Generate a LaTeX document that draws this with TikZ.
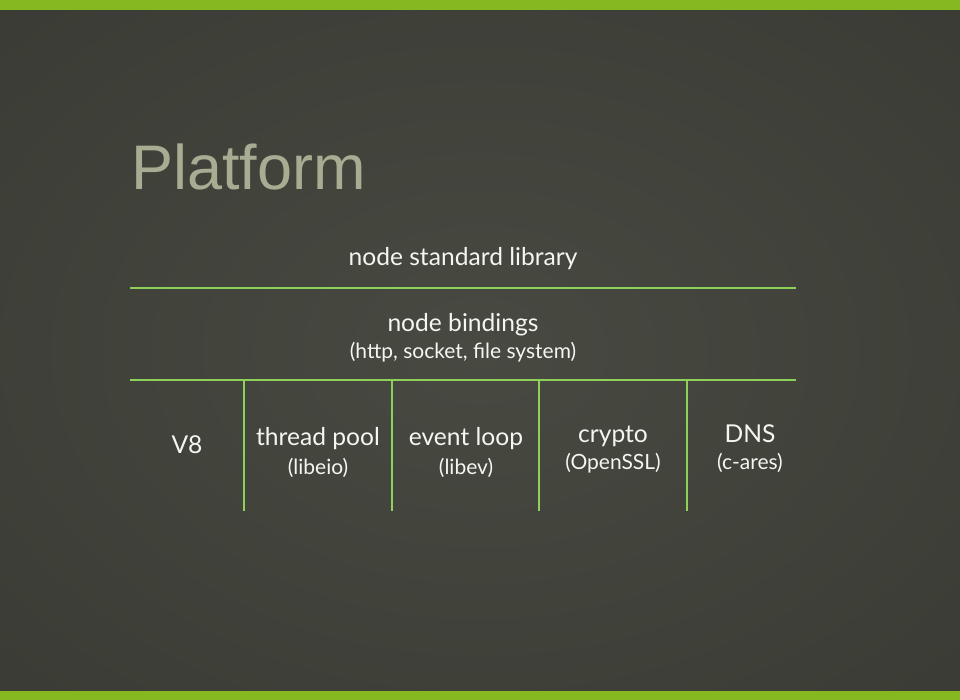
\documentclass[tikz,border=0pt]{standalone}
\usepackage{fontspec}
\setmainfont{Lato}
\newfontfamily\titlefont{Liberation Sans}
\definecolor{barGreen}{HTML}{86B91F}
\definecolor{lineGreen}{HTML}{8DD05A}
\definecolor{bgOuter}{HTML}{35362F}
\definecolor{bgInner}{HTML}{484941}
\definecolor{titleCol}{HTML}{A8AC92}
\definecolor{textCol}{HTML}{F6F6F0}
\pgfdeclareradialshading{bgshade}{\pgfpoint{0bp}{0bp}}{color(0bp)=(bgInner); color(50bp)=(bgOuter)}
\tikzset{
  rule/.style={draw=lineGreen, line width=2pt},
  maintext/.style={text=textCol, font=\fontsize{24.6}{28}\selectfont, anchor=base, inner sep=0pt},
  subtext/.style={text=textCol, font=\fontsize{21}{24}\selectfont, anchor=base, inner sep=0pt},
}
\begin{document}
\begin{tikzpicture}[x=1pt, y=-1pt]
\useasboundingbox (0,0) rectangle (960,700);
% background
\shade[shading=bgshade] (0,10) rectangle (960,691);
\fill[barGreen] (0,0) rectangle (960,10);
\fill[barGreen] (0,691) rectangle (960,700);
% title
\node[anchor=base west, inner sep=0pt, text=titleCol, font=\titlefont\fontsize{63}{70}\selectfont] (title) at (131,190) {Platform};
% rules
\coordinate (h1l) at (130,288); \coordinate (h1r) at (796,288);
\coordinate (h2l) at (130,380); \coordinate (h2r) at (796,380);
\draw[rule] (h1l) -- (h1r);
\draw[rule] (h2l) -- (h2r);
\foreach \x/\n in {244/a,392/b,539/c,687/d}{
  \coordinate (v\n t) at (\x,380);
  \coordinate (v\n b) at (\x,511);
  \draw[rule] (v\n t) -- (v\n b);
}
% texts
\node[maintext] (std) at (463,266) {node standard library};
\node[maintext] (bind) at (463,331) {node bindings};
\node[subtext] (bindsub) at (463,358) {(http, socket, file system)};
\node[maintext] (v8) at (187,453) {V8};
\node[maintext] (tp) at (318,445) {thread pool};
\node[subtext] (tpsub) at (318,474) {(libeio)};
\node[maintext] (el) at (466,445) {event loop};
\node[subtext] (elsub) at (466,474) {(libev)};
\node[maintext] (cr) at (613,442) {crypto};
\node[subtext] (crsub) at (613,469) {(OpenSSL)};
\node[maintext] (dns) at (750,442) {DNS};
\node[subtext] (dnssub) at (750,469) {(c-ares)};
\end{tikzpicture}
\end{document}
